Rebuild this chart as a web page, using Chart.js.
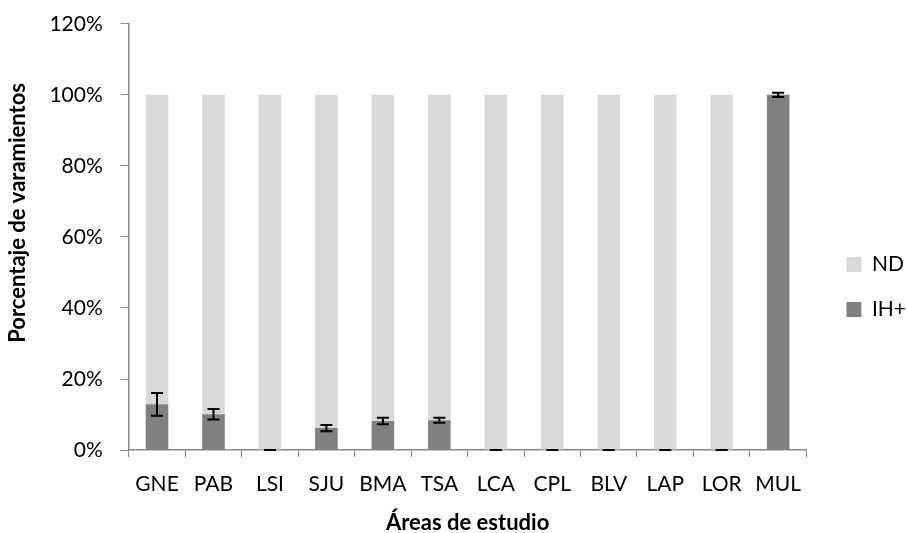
<!DOCTYPE html>
<html>
<head>
<meta charset="utf-8">
<script src="https://cdn.jsdelivr.net/npm/chart.js@4/dist/chart.umd.min.js"></script>
<style>
  body { margin: 0; background: #fff; }
  #wrap { width: 906px; height: 533px; }
</style>
</head>
<body>
<div id="wrap"><canvas id="chart" width="906" height="533"></canvas></div>
<script>
const areas = ['GNE', 'PAB', 'LSI', 'SJU', 'BMA', 'TSA', 'LCA', 'CPL', 'BLV', 'LAP', 'LOR', 'MUL'];
const ihPlus = [12.9, 10.1, 0, 6.2, 8.2, 8.4, 0, 0, 0, 0, 0, 100];
const ihErr = [3.2, 1.5, 0, 0.9, 0.9, 0.7, 0, 0, 0, 0, 0, 0.6];
const nd = [87.1, 89.9, 100, 93.8, 91.8, 91.6, 100, 100, 100, 100, 100, 0];
const yTicks = [0, 20, 40, 60, 80, 100, 120];

const font = "'Lato', 'Open Sans', sans-serif";

// error bars on top of the IH+ stack
const errorBars = {
    id: 'errorBars',
    afterDatasetsDraw(chart) {
        const ctx = chart.ctx;
        const x = chart.scales.x, y = chart.scales.y;
        ctx.save();
        ctx.strokeStyle = '#000';
        ctx.lineWidth = 2;
        ihPlus.forEach((v, i) => {
            const cx = x.getPixelForValue(i);
            const top = y.getPixelForValue(v + ihErr[i]);
            const bot = y.getPixelForValue(Math.max(v - ihErr[i], 0));
            const w = 6;
            ctx.beginPath();
            ctx.moveTo(cx, top); ctx.lineTo(cx, bot);
            ctx.moveTo(cx - w, top); ctx.lineTo(cx + w, top);
            ctx.moveTo(cx - w, bot); ctx.lineTo(cx + w, bot);
            ctx.stroke();
        });
        ctx.restore();
    }
};

// nudge the legend a bit further right, away from the bars
const legendShift = {
    id: 'legendShift',
    afterLayout(chart) {
        chart.legend.left += 16;
        chart.legend.right += 16;
    }
};

new Chart(document.getElementById('chart'), {
    type: 'bar',
    data: {
        labels: areas,
        datasets: [
            { label: 'IH+', data: ihPlus, backgroundColor: '#808080', barPercentage: 0.4, categoryPercentage: 1 },
            { label: 'ND', data: nd, backgroundColor: '#d9d9d9', barPercentage: 0.4, categoryPercentage: 1 }
        ]
    },
    options: {
        responsive: false,
        animation: false,
        layout: { padding: { top: 2, left: 5, right: 6, bottom: 0 } },
        plugins: {
            tooltip: { enabled: false },
            legend: {
                position: 'right',
                reverse: true,
                title: { display: true, text: '', font: { size: 1 }, padding: { top: 38, bottom: 0 } },
                labels: {
                    boxWidth: 15, boxHeight: 15, padding: 24,
                    color: '#000', font: { family: font, size: 21 }
                }
            }
        },
        scales: {
            x: {
                stacked: true,
                grid: { drawOnChartArea: false, drawTicks: true, tickLength: 7, color: '#888', offset: true },
                border: { color: '#888', width: 1.5 },
                ticks: { color: '#000', font: { family: font, size: 21, lineHeight: 1.0 }, padding: 17 },
                title: { display: true, text: 'Áreas de estudio', color: '#000', font: { family: font, size: 22, weight: 'bold', lineHeight: 0.95 }, padding: { top: 0, bottom: 0 } }
            },
            y: {
                stacked: true,
                min: 0, max: 120,
                afterBuildTicks(axis) { axis.ticks = yTicks.map(v => ({ value: v })); },
                grid: { drawOnChartArea: false, drawTicks: true, tickLength: 8, color: '#888' },
                border: { color: '#888', width: 1.5 },
                ticks: { color: '#000', font: { family: font, size: 21, lineHeight: 0.55 }, padding: 18, callback: v => v + '%' },
                title: { display: true, text: '\u00a0'.repeat(9) + 'Porcentaje de varamientos', color: '#000', font: { family: font, size: 22, weight: 'bold' }, padding: { top: 0, bottom: 0 } }
            }
        }
    },
    plugins: [errorBars, legendShift]
});
</script>
</body>
</html>
